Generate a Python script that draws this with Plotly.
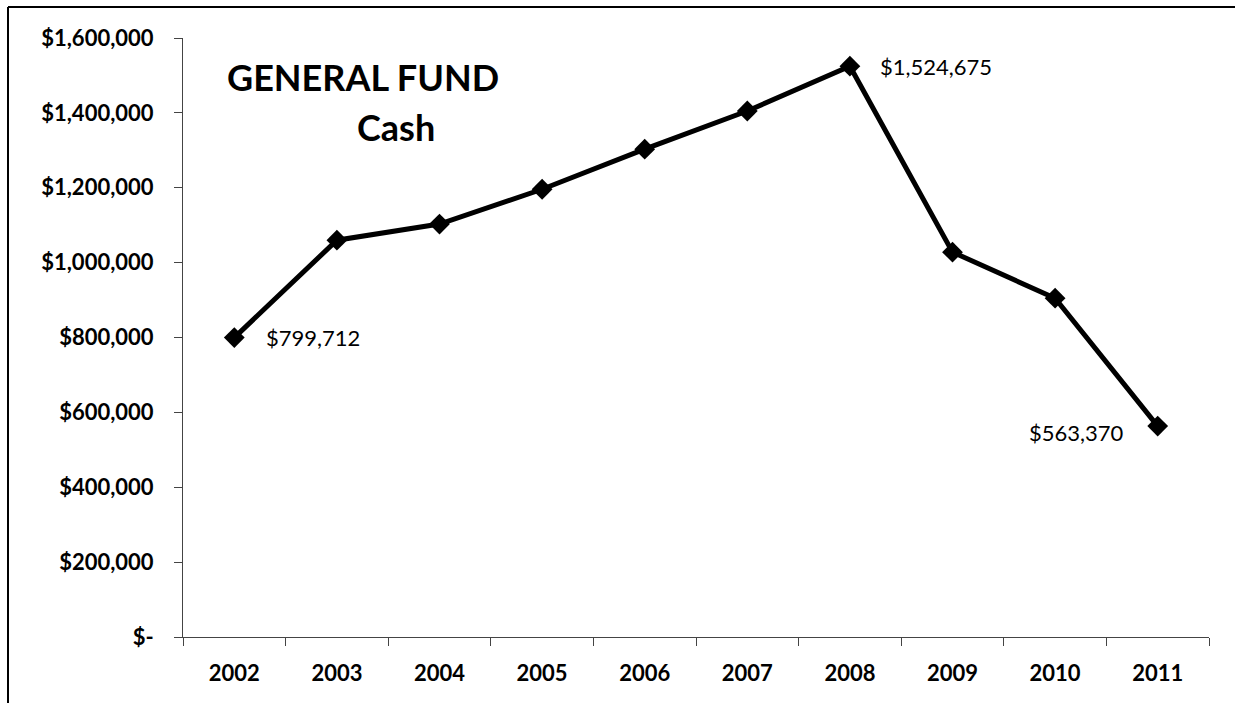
import plotly.graph_objects as go

years = ["2002", "2003", "2004", "2005", "2006", "2007", "2008", "2009", "2010", "2011"]
cash = [799712, 1060000, 1103000, 1196000, 1303000, 1405000, 1524675, 1028000, 905000, 563370]

ytick_vals = [0, 200000, 400000, 600000, 800000, 1000000, 1200000, 1400000, 1600000]
ytick_text = ["$-", "$200,000", "$400,000", "$600,000", "$800,000", "$1,000,000",
              "$1,200,000", "$1,400,000", "$1,600,000"]

labelled = {0: ("left", 30), 6: ("left", 28), 9: ("right", -32)}

FONT = "Lato"
L, R, T, B = 183, 1209, 38, 637
W, H = R - L, B - T

fig = go.Figure()
fig.add_trace(go.Scatter(
    x=years, y=cash, mode="lines+markers",
    line=dict(color="black", width=5),
    marker=dict(symbol="diamond", size=16, color="black"),
    showlegend=False, hoverinfo="x+y",
))

for i, (anchor, shift) in labelled.items():
    fig.add_annotation(
        x=i, y=cash[i], xref="x", yref="y",
        text="${:,}".format(cash[i]), showarrow=False,
        xanchor=anchor, xshift=shift, yshift=(-6 if i == 9 else 0),
        font=dict(family=FONT, size=22, color="black"),
    )

fig.add_annotation(xref="paper", yref="paper", text="GENERAL FUND", showarrow=False,
                   x=(363 - L) / W, y=(B - 77) / H, xanchor="center", yanchor="middle",
                   font=dict(family=FONT, size=36, color="black", weight="bold"))
fig.add_annotation(xref="paper", yref="paper", text="Cash", showarrow=False,
                   x=(396 - L) / W, y=(B - 127) / H, xanchor="center", yanchor="middle",
                   font=dict(family=FONT, size=36, color="black", weight="bold"))

# outer frame (left and top edges visible)
fx = -(L - 8) / W
fy = (B - 7) / H
fig.add_shape(type="line", xref="paper", yref="paper",
              x0=fx, x1=(1240 - L) / W, y0=fy, y1=fy,
              line=dict(color="black", width=2))
fig.add_shape(type="line", xref="paper", yref="paper",
              x0=fx, x1=fx, y0=fy, y1=-(710 - B) / H,
              line=dict(color="black", width=2))

fig.update_layout(
    width=1235, height=703,
    margin=dict(l=L, r=1235 - R, t=T, b=703 - B),
    paper_bgcolor="white", plot_bgcolor="white",
    font=dict(family=FONT, color="black"),
    xaxis=dict(
        type="category", range=[-0.5, 9.5], autorange=False,
        showgrid=False, showline=True, linecolor="#444", linewidth=1,
        ticks="outside", tickson="boundaries", ticklen=8, tickcolor="#444",
        tickfont=dict(family=FONT, size=22, color="black", weight="bold"),
        ticklabelstandoff=17, zeroline=False, tickangle=0,
    ),
    yaxis=dict(
        range=[0, 1600000], autorange=False, tickvals=ytick_vals, ticktext=ytick_text,
        showgrid=False, showline=True, linecolor="#444", linewidth=1,
        ticks="outside", ticklen=8, tickcolor="#444",
        tickfont=dict(family=FONT, size=22, color="black", weight="bold"),
        ticklabelstandoff=16, zeroline=False,
    ),
)

fig.write_html("out.html")
